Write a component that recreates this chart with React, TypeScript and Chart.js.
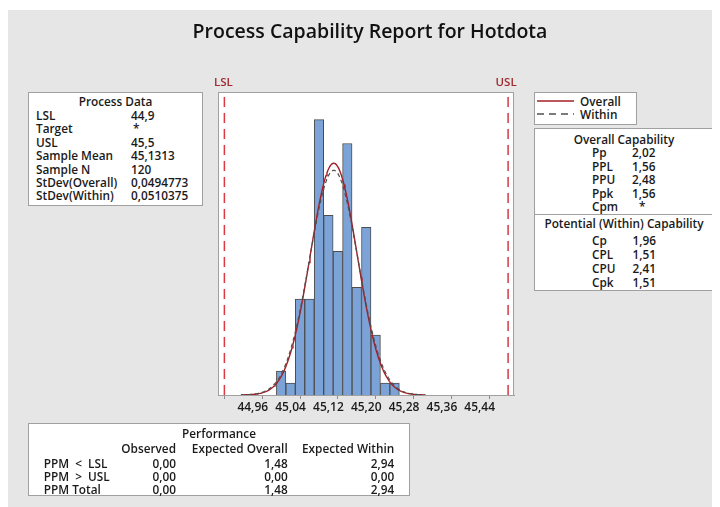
import React, { useEffect, useRef } from "react";
import { Chart, registerables } from "chart.js";

Chart.register(...registerables);

// ---- Data ----
const binMidpoints = [45.02, 45.04, 45.06, 45.08, 45.10, 45.12, 45.14, 45.16, 45.18, 45.20, 45.22, 45.24, 45.26];
const binCounts = [2, 1, 8, 8, 23, 15, 12, 21, 9, 14, 5, 1, 1];
const binWidth = 0.02;
const tickMarkValues = [44.92, 45.0, 45.08, 45.16, 45.24, 45.32, 45.40, 45.48];
const tickLabelValues = [44.96, 45.04, 45.12, 45.20, 45.28, 45.36, 45.44];
const tickLabels = ["44,96", "45,04", "45,12", "45,20", "45,28", "45,36", "45,44"];
const LSL = 44.9;
const USL = 45.5;
const sampleMean = 45.1313;
const sampleN = 120;
const stdevOverall = 0.0494773;
const stdevWithin = 0.0510375;
const curveStart = 44.935;
const curveEnd = 45.325;

const processDataLabels = ["LSL", "Target", "USL", "Sample Mean", "Sample N", "StDev(Overall)", "StDev(Within)"];
const processDataValues = ["44,9", "*", "45,5", "45,1313", "120", "0,0494773", "0,0510375"];
const overallLabels = ["Pp", "PPL", "PPU", "Ppk", "Cpm"];
const overallValues = ["2,02", "1,56", "2,48", "1,56", "*"];
const withinLabels = ["Cp", "CPL", "CPU", "Cpk"];
const withinValues = ["1,96", "1,51", "2,41", "1,51"];
const perfColumns = ["Observed", "Expected Overall", "Expected Within"];
const perfRows = ["PPM  <  LSL", "PPM  >  USL", "PPM Total"];
const perfObserved = ["0,00", "0,00", "0,00"];
const perfExpOverall = ["1,48", "0,00", "1,48"];
const perfExpWithin = ["2,94", "0,00", "2,94"];

// fitted normal curves from the table's mean / stdev, scaled to counts
function normalCurve(sd: number) {
  const pts: { x: number; y: number }[] = [];
  const steps = 195;
  for (let i = 0; i <= steps; i++) {
    const x = curveStart + ((curveEnd - curveStart) * i) / steps;
    const z = (x - sampleMean) / sd;
    const y = (sampleN * binWidth * Math.exp(-0.5 * z * z)) / (sd * Math.sqrt(2 * Math.PI));
    pts.push({ x, y });
  }
  return pts;
}

const FONT = "'Open Sans', 'Noto Sans', sans-serif";
const W = 712;
const H = 499;

const T = (props: { left: number; cy: number; children: React.ReactNode; right?: boolean; center?: boolean; width?: number }) => {
  const lh = 14;
  const style: React.CSSProperties = {
    position: "absolute",
    top: props.cy - lh / 2,
    lineHeight: lh + "px",
    whiteSpace: "pre",
  };
  if (props.center) {
    style.left = 0;
    style.width = props.width;
    style.textAlign = "center";
  } else if (props.right) {
    style.left = props.left - 200;
    style.width = 200;
    style.textAlign = "right";
  } else {
    style.left = props.left;
  }
  return <div style={style}>{props.children}</div>;
};

const boxStyle = (left: number, top: number, width: number, height: number): React.CSSProperties => ({
  position: "absolute",
  left,
  top,
  width,
  height,
  boxSizing: "border-box",
  border: "1px solid #a0a0a0",
  background: "#ffffff",
});

export default function App() {
  const ref = useRef<HTMLCanvasElement | null>(null);

  useEffect(() => {
    if (!ref.current) return;
    const bgPlugin = {
      id: "bgPlugin",
      beforeDraw(chart: any) {
        const { ctx, chartArea } = chart;
        ctx.save();
        ctx.fillStyle = "#ffffff";
        ctx.fillRect(0, 0, W, H);
        ctx.fillStyle = "#e6e6e6";
        ctx.fillRect(0, 2, W, H);
        ctx.fillStyle = "#ffffff";
        ctx.fillRect(chartArea.left, chartArea.top, chartArea.right - chartArea.left, chartArea.bottom - chartArea.top);
        ctx.restore();
      },
      afterDraw(chart: any) {
        const { ctx, chartArea, scales } = chart;
        ctx.save();
        ctx.strokeStyle = "#a0a0a0";
        ctx.lineWidth = 1;
        ctx.strokeRect(chartArea.left + 0.5, chartArea.top + 0.5, chartArea.right - chartArea.left - 1, chartArea.bottom - chartArea.top);
        ctx.fillStyle = "#a0282e";
        ctx.font = "600 11.5px " + FONT;
        ctx.textAlign = "center";
        ctx.textBaseline = "middle";
        ctx.fillText("LSL", scales.x.getPixelForValue(LSL) - 1, chartArea.top - 9.5);
        ctx.fillText("USL", scales.x.getPixelForValue(USL) - 2, chartArea.top - 9.5);
        ctx.restore();
      },
    };

    const chart = new Chart(ref.current, {
      type: "bar",
      data: {
        datasets: [
          {
            type: "line",
            label: "LSL",
            data: [{ x: LSL, y: 0 }, { x: LSL, y: 25.3 }],
            borderColor: "#dc3a42",
            borderWidth: 1.5,
            borderDash: [10, 6],
            pointRadius: 0,
            order: 0,
          } as any,
          {
            type: "line",
            label: "USL",
            data: [{ x: USL, y: 0 }, { x: USL, y: 25.3 }],
            borderColor: "#dc3a42",
            borderWidth: 1.5,
            borderDash: [10, 6],
            pointRadius: 0,
            order: 0,
          } as any,
          {
            type: "line",
            label: "Within",
            data: normalCurve(stdevWithin),
            borderColor: "#505050",
            borderWidth: 1.2,
            borderDash: [4, 3],
            pointRadius: 0,
            tension: 0,
            order: 1,
          } as any,
          {
            type: "line",
            label: "Overall",
            data: normalCurve(stdevOverall),
            borderColor: "#a31f26",
            borderWidth: 1.4,
            pointRadius: 0,
            tension: 0,
            order: 2,
          } as any,
          {
            type: "bar",
            label: "Counts",
            data: binMidpoints.map((x, i) => ({ x, y: binCounts[i] })),
            backgroundColor: "#7ca3d8",
            borderColor: "#4d4d4d",
            borderWidth: 1,
            barPercentage: 1,
            categoryPercentage: 1,
            order: 5,
          } as any,
        ],
      },
      options: {
        responsive: false,
        animation: false,
        parsing: true,
        layout: { padding: { left: 210, right: 206, top: 84, bottom: 82 } },
        plugins: { legend: { display: false }, tooltip: { enabled: false } },
        scales: {
          x: {
            type: "linear",
            min: 44.8865,
            max: 45.5125,
            offset: false,
            afterBuildTicks: (scale: any) => {
              const all = [...tickMarkValues, ...tickLabelValues].sort((a, b) => a - b);
              scale.ticks = all.map((v) => ({ value: v }));
            },
            afterFit: (scale: any) => {
              scale.height = 30;
            },
            grid: {
              display: true,
              drawOnChartArea: false,
              drawTicks: true,
              tickLength: 4,
              tickColor: (ctx: any) => {
                const v = ctx.tick ? ctx.tick.value : 0;
                return tickMarkValues.some((t) => Math.abs(t - v) < 1e-6) ? "#8a8a8a" : "rgba(0,0,0,0)";
              },
            },
            border: { display: true, color: "#a0a0a0" },
            ticks: {
              autoSkip: false,
              maxRotation: 0,
              padding: 1,
              color: "#1a1a1a",
              font: { family: FONT, size: 12, weight: "600" },
              callback: (value: any) => {
                const idx = tickLabelValues.findIndex((t) => Math.abs(t - Number(value)) < 1e-6);
                return idx >= 0 ? tickLabels[idx] : "";
              },
            },
          },
          y: { display: false, min: 0, max: 25.3 },
        },
      },
      plugins: [bgPlugin],
    } as any);
    return () => chart.destroy();
  }, []);

  return (
    <div style={{ position: "relative", width: W, height: H, fontFamily: FONT, fontSize: 11.8, fontWeight: 600, color: "#1a1a1a" }}>
      <canvas ref={ref} width={W} height={H} style={{ position: "absolute", left: 0, top: 0, width: W, height: H }} />
      <div
        style={{
          position: "absolute",
          left: 62,
          width: 600,
          top: 11,
          lineHeight: "24px",
          textAlign: "center",
          fontSize: 19.5,
          fontWeight: 600,
          color: "#111",
        }}
      >
        Process Capability Report for Hotdota
      </div>

      {/* Process Data */}
      <div style={boxStyle(20, 84, 175, 114)}>
        <T left={0} cy={8} center width={173}>Process Data</T>
        {processDataLabels.map((l, i) => (
          <T key={l} left={7} cy={22 + 13.4 * i}>{l}</T>
        ))}
        {processDataValues.map((v, i) => (
          <T key={"v" + i} left={v === "*" ? 104 : 102} cy={22 + 13.4 * i}>{v}</T>
        ))}
      </div>

      {/* Legend */}
      <div style={boxStyle(526, 84, 103, 33)}>
        <svg width={101} height={31} style={{ position: "absolute", left: 0, top: 0 }}>
          <line x1={2} y1={8} x2={39} y2={8} stroke="#a31f26" strokeWidth={1.6} />
          <line x1={2} y1={21} x2={39} y2={21} stroke="#505050" strokeWidth={1.6} strokeDasharray="7 5" />
        </svg>
        <T left={45} cy={8}>Overall</T>
        <T left={45} cy={21}>Within</T>
      </div>

      {/* Capability */}
      <div style={boxStyle(526, 120, 180, 163)}>
        <T left={0} cy={9.7} center width={178}>Overall Capability</T>
        {overallLabels.map((l, i) => (
          <T key={l} left={57} cy={23 + 13.5 * i}>{l}</T>
        ))}
        {overallValues.map((v, i) => (
          <T key={"o" + i} left={v === "*" ? 104 : 97} cy={23 + 13.5 * i}>{v}</T>
        ))}
        <div style={{ position: "absolute", left: 0, right: 0, top: 85, borderTop: "1px solid #a0a0a0" }} />
        <T left={0} cy={94.3} center width={178}>Potential (Within) Capability</T>
        {withinLabels.map((l, i) => (
          <T key={l} left={57} cy={111.3 + 13.9 * i}>{l}</T>
        ))}
        {withinValues.map((v, i) => (
          <T key={"w" + i} left={97.5} cy={111.3 + 13.9 * i}>{v}</T>
        ))}
      </div>

      {/* Performance */}
      <div style={boxStyle(20, 415, 382, 73)}>
        <T left={0} cy={9.3} center width={380}>Performance</T>
        <T left={147} cy={23.7} right>{perfColumns[0]}</T>
        <T left={258.7} cy={23.7} right>{perfColumns[1]}</T>
        <T left={365.3} cy={23.7} right>{perfColumns[2]}</T>
        {perfRows.map((r, i) => (
          <React.Fragment key={r}>
            <T left={14.7} cy={38.7 + 13 * i}>{r}</T>
            <T left={147} cy={38.7 + 13 * i} right>{perfObserved[i]}</T>
            <T left={258.7} cy={38.7 + 13 * i} right>{perfExpOverall[i]}</T>
            <T left={365.3} cy={38.7 + 13 * i} right>{perfExpWithin[i]}</T>
          </React.Fragment>
        ))}
      </div>
    </div>
  );
}
